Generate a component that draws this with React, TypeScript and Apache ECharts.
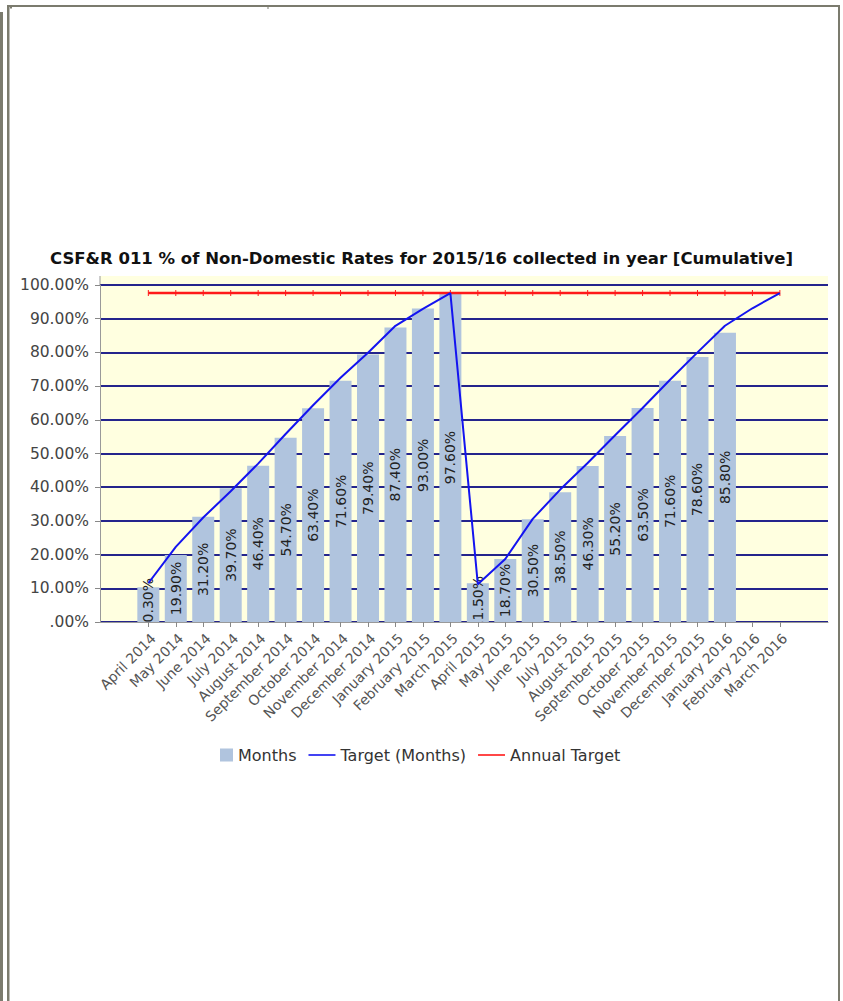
import React, { useEffect, useRef } from 'react';
import * as echarts from 'echarts';

const titleText = 'CSF&R 011 % of Non-Domestic Rates for 2015/16 collected in year [Cumulative]';

const categories = [
  'April 2014', 'May 2014', 'June 2014', 'July 2014', 'August 2014', 'September 2014',
  'October 2014', 'November 2014', 'December 2014', 'January 2015', 'February 2015', 'March 2015',
  'April 2015', 'May 2015', 'June 2015', 'July 2015', 'August 2015', 'September 2015',
  'October 2015', 'November 2015', 'December 2015', 'January 2016', 'February 2016', 'March 2016',
];

const monthsValues = [
  10.3, 19.9, 31.2, 39.7, 46.4, 54.7, 63.4, 71.6, 79.4, 87.4, 93.0, 97.6,
  11.5, 18.7, 30.5, 38.5, 46.3, 55.2, 63.5, 71.6, 78.6, 85.8, null, null,
];

const targetValues = [
  11.5, 22.3, 31.0, 38.8, 47.0, 55.8, 64.3, 72.5, 79.9, 87.9, 92.9, 97.6,
  11.2, 18.7, 30.6, 39.3, 47.2, 55.4, 63.5, 71.9, 80.0, 87.9, 93.1, 97.6,
];

const annualTargetValues = [
  97.6, 97.6, 97.6, 97.6, 97.6, 97.6, 97.6, 97.6, 97.6, 97.6, 97.6, 97.6,
  97.6, 97.6, 97.6, 97.6, 97.6, 97.6, 97.6, 97.6, 97.6, 97.6, 97.6, 97.6,
];

const seriesNames = ['Months', 'Target (Months)', 'Annual Target'];

const BORDER = '#7b7b6e';

export default function App() {
  const ref = useRef<HTMLDivElement>(null);

  useEffect(() => {
    const chart = echarts.init(ref.current as HTMLDivElement, null, { renderer: 'svg' });
    chart.setOption({
      animation: false,
      textStyle: { fontFamily: 'DejaVu Sans' },
      title: {
        text: titleText,
        left: 'center',
        top: 245,
        textStyle: { fontSize: 16.5, fontWeight: 'bold', color: '#111', fontFamily: 'DejaVu Sans' },
      },
      legend: {
        left: 201,
        top: 742,
        itemWidth: 27,
        itemHeight: 13,
        itemGap: 12,
        textStyle: { fontSize: 16, color: '#333' },
        data: [
          { name: seriesNames[0], icon: 'path://M0,6.5L0.01,6.5M14,0L27,0L27,13L14,13Z' },
          { name: seriesNames[1], icon: 'path://M0,0L27,0L27,1.6L0,1.6Z' },
          { name: seriesNames[2], icon: 'path://M0,0L27,0L27,1.6L0,1.6Z' },
        ],
      },
      grid: [
        { left: 100, right: 15, top: 285, bottom: 379 },
        { left: 134.6, right: 49.4, top: 285, bottom: 379 },
      ],
      xAxis: [
        {
          gridIndex: 0,
          type: 'value',
          min: 0,
          max: 1,
          z: 10,
          axisLine: { show: true, lineStyle: { color: '#999', width: 1 } },
          axisTick: { show: false },
          axisLabel: { show: false },
          splitLine: { show: false },
        },
        {
          gridIndex: 1,
          type: 'category',
          data: categories,
          boundaryGap: true,
          z: 10,
          axisLine: { show: false },
          axisTick: { show: true, alignWithLabel: true, length: 5, lineStyle: { color: '#888' } },
          axisLabel: {
            rotate: 45,
            fontSize: 14,
            color: '#555',
            margin: 9,
            interval: 0,
            verticalAlign: 'top',
          },
        },
      ],
      yAxis: [
        {
          gridIndex: 0,
          type: 'value',
          min: 0,
          max: 100,
          interval: 10,
          axisLine: { show: true, lineStyle: { color: '#999' } },
          axisTick: { show: true, length: 5, lineStyle: { color: '#888' } },
          axisLabel: {
            fontSize: 15.5,
            color: '#444',
            margin: 11,
            formatter: (v: number) => (v === 0 ? '.00%' : v.toFixed(2) + '%'),
          },
          splitLine: { show: true, lineStyle: { color: '#24248c', width: 2 } },
        },
        { gridIndex: 1, type: 'value', min: 0, max: 100, show: false },
      ],
      graphic: [
        { type: 'rect', z: -10, shape: { x: 100, y: 276, width: 728, height: 346 }, style: { fill: '#ffffe0' } },
        { type: 'rect', z: 5, shape: { x: 100, y: 623, width: 728, height: 16 }, style: { fill: '#ffffff' } },
        { type: 'rect', shape: { x: 99.5, y: 276, width: 1, height: 10 }, style: { fill: '#999' } },
        { type: 'rect', shape: { x: 0, y: 12, width: 3, height: 989 }, style: { fill: BORDER } },
        { type: 'rect', shape: { x: 7, y: 5, width: 2.5, height: 996 }, style: { fill: BORDER } },
        { type: 'rect', shape: { x: 7, y: 5, width: 833, height: 2 }, style: { fill: BORDER } },
        { type: 'rect', shape: { x: 838, y: 5, width: 2, height: 996 }, style: { fill: BORDER } },
        { type: 'rect', shape: { x: 10, y: 7, width: 2, height: 1.5 }, style: { fill: BORDER } },
        { type: 'rect', shape: { x: 267.5, y: 7, width: 1, height: 2 }, style: { fill: BORDER } },
      ],
      series: [
        {
          name: seriesNames[0],
          type: 'bar',
          xAxisIndex: 1,
          yAxisIndex: 1,
          barWidth: 22,
          data: monthsValues,
          itemStyle: { color: '#b0c4de' },
          label: {
            show: true,
            position: 'inside',
            rotate: 90,
            fontSize: 14,
            color: '#222',
            formatter: (p: any) => Number(p.value).toFixed(2) + '%',
          },
          z: 2,
        },
        {
          name: seriesNames[2],
          type: 'line',
          xAxisIndex: 1,
          yAxisIndex: 1,
          data: annualTargetValues,
          symbol: 'rect',
          symbolSize: [1, 6],
          showSymbol: true,
          lineStyle: { color: '#ff1a1a', width: 2.5 },
          itemStyle: { color: '#ff1a1a' },
          z: 3,
        },
        {
          name: seriesNames[1],
          type: 'line',
          xAxisIndex: 1,
          yAxisIndex: 1,
          data: targetValues,
          symbol: 'none',
          lineStyle: { color: '#1414f0', width: 2 },
          itemStyle: { color: '#1414f0' },
          z: 4,
        },
      ],
    });
    return () => chart.dispose();
  }, []);

  return (
    <div
      ref={ref}
      style={{ position: 'absolute', left: 0, top: 0, width: 843, height: 1001, background: '#fff' }}
    />
  );
}
